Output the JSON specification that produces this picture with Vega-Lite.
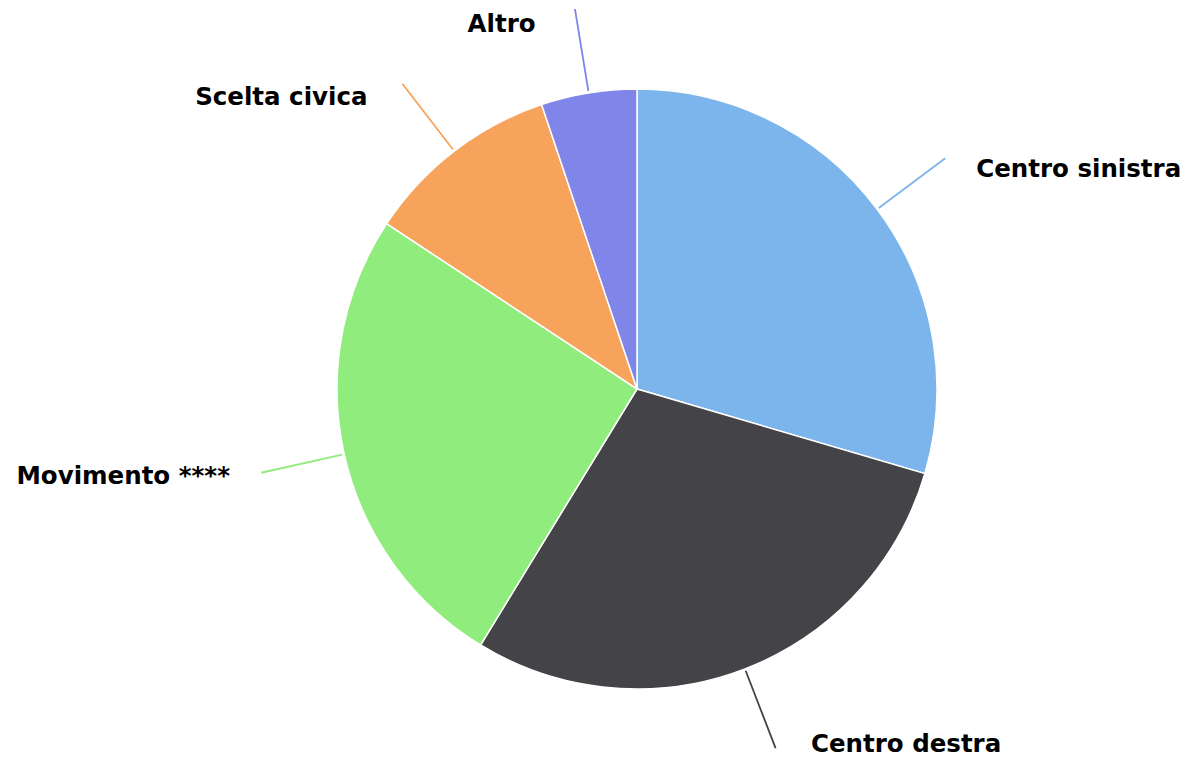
{
  "$schema": "https://vega.github.io/schema/vega-lite/v6.json",
  "width": 1098,
  "height": 738,
  "autosize": {"type": "none"},
  "padding": {"left": 88, "top": 20, "right": 0, "bottom": 0},
  "background": "#ffffff",
  "config": {"view": {"stroke": null}},
  "data": {
    "values": [
      {"partito": "Centro sinistra", "valore": 29.55, "ordine": 1},
      {"partito": "Centro destra", "valore": 29.18, "ordine": 2},
      {"partito": "Movimento ****", "valore": 25.56, "ordine": 3},
      {"partito": "Scelta civica", "valore": 10.56, "ordine": 4},
      {"partito": "Altro", "valore": 5.15, "ordine": 5}
    ]
  },
  "layer": [
    {
      "transform": [
        {"stack": "valore", "groupby": [], "sort": [{"field": "ordine"}], "as": ["s0", "s1"]},
        {"fold": ["s0", "s1"], "as": ["k", "v"]},
        {"aggregate": [{"op": "mean", "field": "v", "as": "mid"}], "groupby": ["partito"]}
      ],
      "mark": {"type": "arc", "filled": false, "strokeWidth": 1.8},
      "encoding": {
        "theta": {"field": "mid", "type": "quantitative", "stack": null},
        "theta2": {"field": "mid"},
        "radius": {"value": 385},
        "radius2": {"value": 302},
        "color": {"field": "partito", "type": "nominal", "legend": null,
          "scale": {"domain": ["Centro sinistra", "Centro destra", "Movimento ****", "Scelta civica", "Altro"],
                    "range": ["#7cb5ec", "#434348", "#90ed7d", "#f7a35c", "#8085e9"]}}
      }
    },
    {
      "mark": {"type": "arc", "outerRadius": 300, "stroke": "#ffffff", "strokeWidth": 1.5},
      "encoding": {
        "theta": {"field": "valore", "type": "quantitative", "stack": true},
        "order": {"field": "ordine", "type": "quantitative"},
        "color": {"field": "partito", "type": "nominal", "legend": null}
      }
    },
    {
      "mark": {"type": "text", "radius": 375, "align": "left", "baseline": "middle", "dx": 39, "dy": 6, "font": "DejaVu Sans", "fontWeight": "bold", "fontSize": 24.5, "color": "#000000"},
      "encoding": {
        "theta": {"field": "valore", "type": "quantitative", "stack": true},
        "order": {"field": "ordine", "type": "quantitative"},
        "text": {"condition": {"test": "datum.partito === 'Centro sinistra' || datum.partito === 'Centro destra'", "field": "partito"}, "value": ""}
      }
    },
    {
      "mark": {"type": "text", "radius": 375, "align": "right", "baseline": "middle", "dx": -41, "dy": 6, "font": "DejaVu Sans", "fontWeight": "bold", "fontSize": 24.5, "color": "#000000"},
      "encoding": {
        "theta": {"field": "valore", "type": "quantitative", "stack": true},
        "order": {"field": "ordine", "type": "quantitative"},
        "text": {"condition": {"test": "datum.partito !== 'Centro sinistra' && datum.partito !== 'Centro destra'", "field": "partito"}, "value": ""}
      }
    }
  ]
}
